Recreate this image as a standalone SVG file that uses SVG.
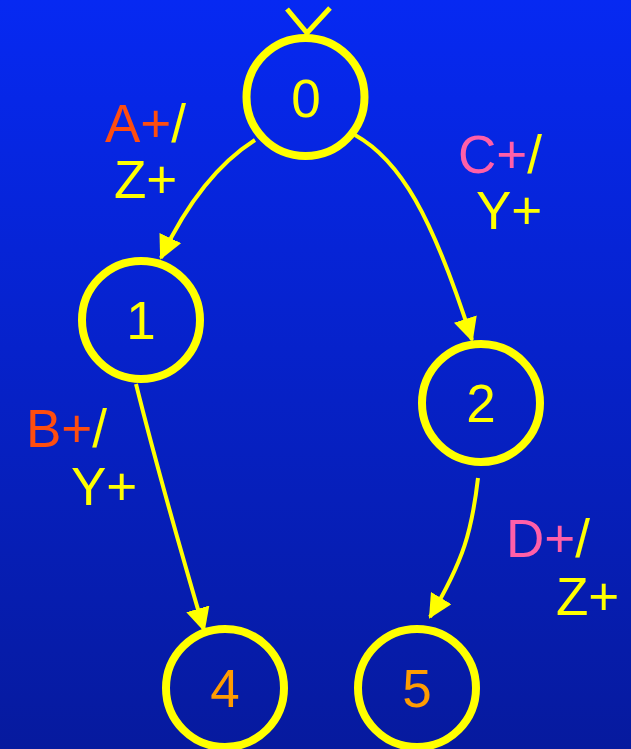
<svg xmlns="http://www.w3.org/2000/svg" width="631" height="749" viewBox="0 0 631 749">
<defs>
<linearGradient id="bg" x1="0" y1="0" x2="0" y2="1">
<stop offset="0" stop-color="#0629f2"/>
<stop offset="1" stop-color="#061a9e"/>
</linearGradient>
<marker id="arr" viewBox="0 0 24 24" markerWidth="24" markerHeight="24" refX="22" refY="12" orient="auto" markerUnits="userSpaceOnUse">
<path d="M0,0 L24,12 L0,24 z" fill="#ffff00"/>
</marker>
<style>
.node{fill:none;stroke:#ffff00;stroke-width:8}
.num{font-family:"Liberation Sans",Arial,sans-serif;font-size:53px;text-anchor:middle}
.lbl{font-family:"Liberation Sans",Arial,sans-serif;font-size:53px}
.edge{fill:none;stroke:#ffff00;stroke-width:4;marker-end:url(#arr)}
.y{fill:#ffff00}
.o{fill:#ff9c00}
.r{fill:#ff4d0f}
.p{fill:#ff5fa8}
</style>
</defs>
<rect width="631" height="749" fill="url(#bg)"/>
<g id="start">
<path d="M287,9 L307,33 L330,8" fill="none" stroke="#ffff00" stroke-width="5"/>
</g>
<g id="connectors">
<path class="edge" d="M255,140 Q200,175 161,258"/>
<path class="edge" d="M355,135 C400,160 432,215 472,340"/>
<path class="edge" d="M136,384 Q160,480 204,630"/>
<path class="edge" d="M478,478 C472,530 464,560 430,617"/>
</g>
<g id="node0"><circle class="node" cx="305.5" cy="97" r="59"/><text class="num y" x="306" y="117">0</text></g>
<g id="node1"><circle class="node" cx="141" cy="320" r="59"/><text class="num y" x="141" y="339">1</text></g>
<g id="node2"><circle class="node" cx="481" cy="403" r="59"/><text class="num y" x="481" y="422">2</text></g>
<g id="node4"><circle class="node" cx="225" cy="688" r="59"/><text class="num o" x="225" y="707">4</text></g>
<g id="node5"><circle class="node" cx="417" cy="688" r="59"/><text class="num o" x="417" y="707">5</text></g>
<g id="labels">
<text class="lbl" x="105" y="142"><tspan class="r">A+</tspan><tspan class="y">/</tspan></text>
<text class="lbl y" x="114" y="198">Z+</text>
<text class="lbl" x="458" y="173"><tspan class="p">C+</tspan><tspan class="y">/</tspan></text>
<text class="lbl y" x="476" y="229">Y+</text>
<text class="lbl" x="26" y="447"><tspan class="r">B+</tspan><tspan class="y">/</tspan></text>
<text class="lbl y" x="71" y="505">Y+</text>
<text class="lbl" x="506" y="557"><tspan class="p">D+</tspan><tspan class="y">/</tspan></text>
<text class="lbl y" x="556" y="615">Z+</text>
</g>
</svg>
